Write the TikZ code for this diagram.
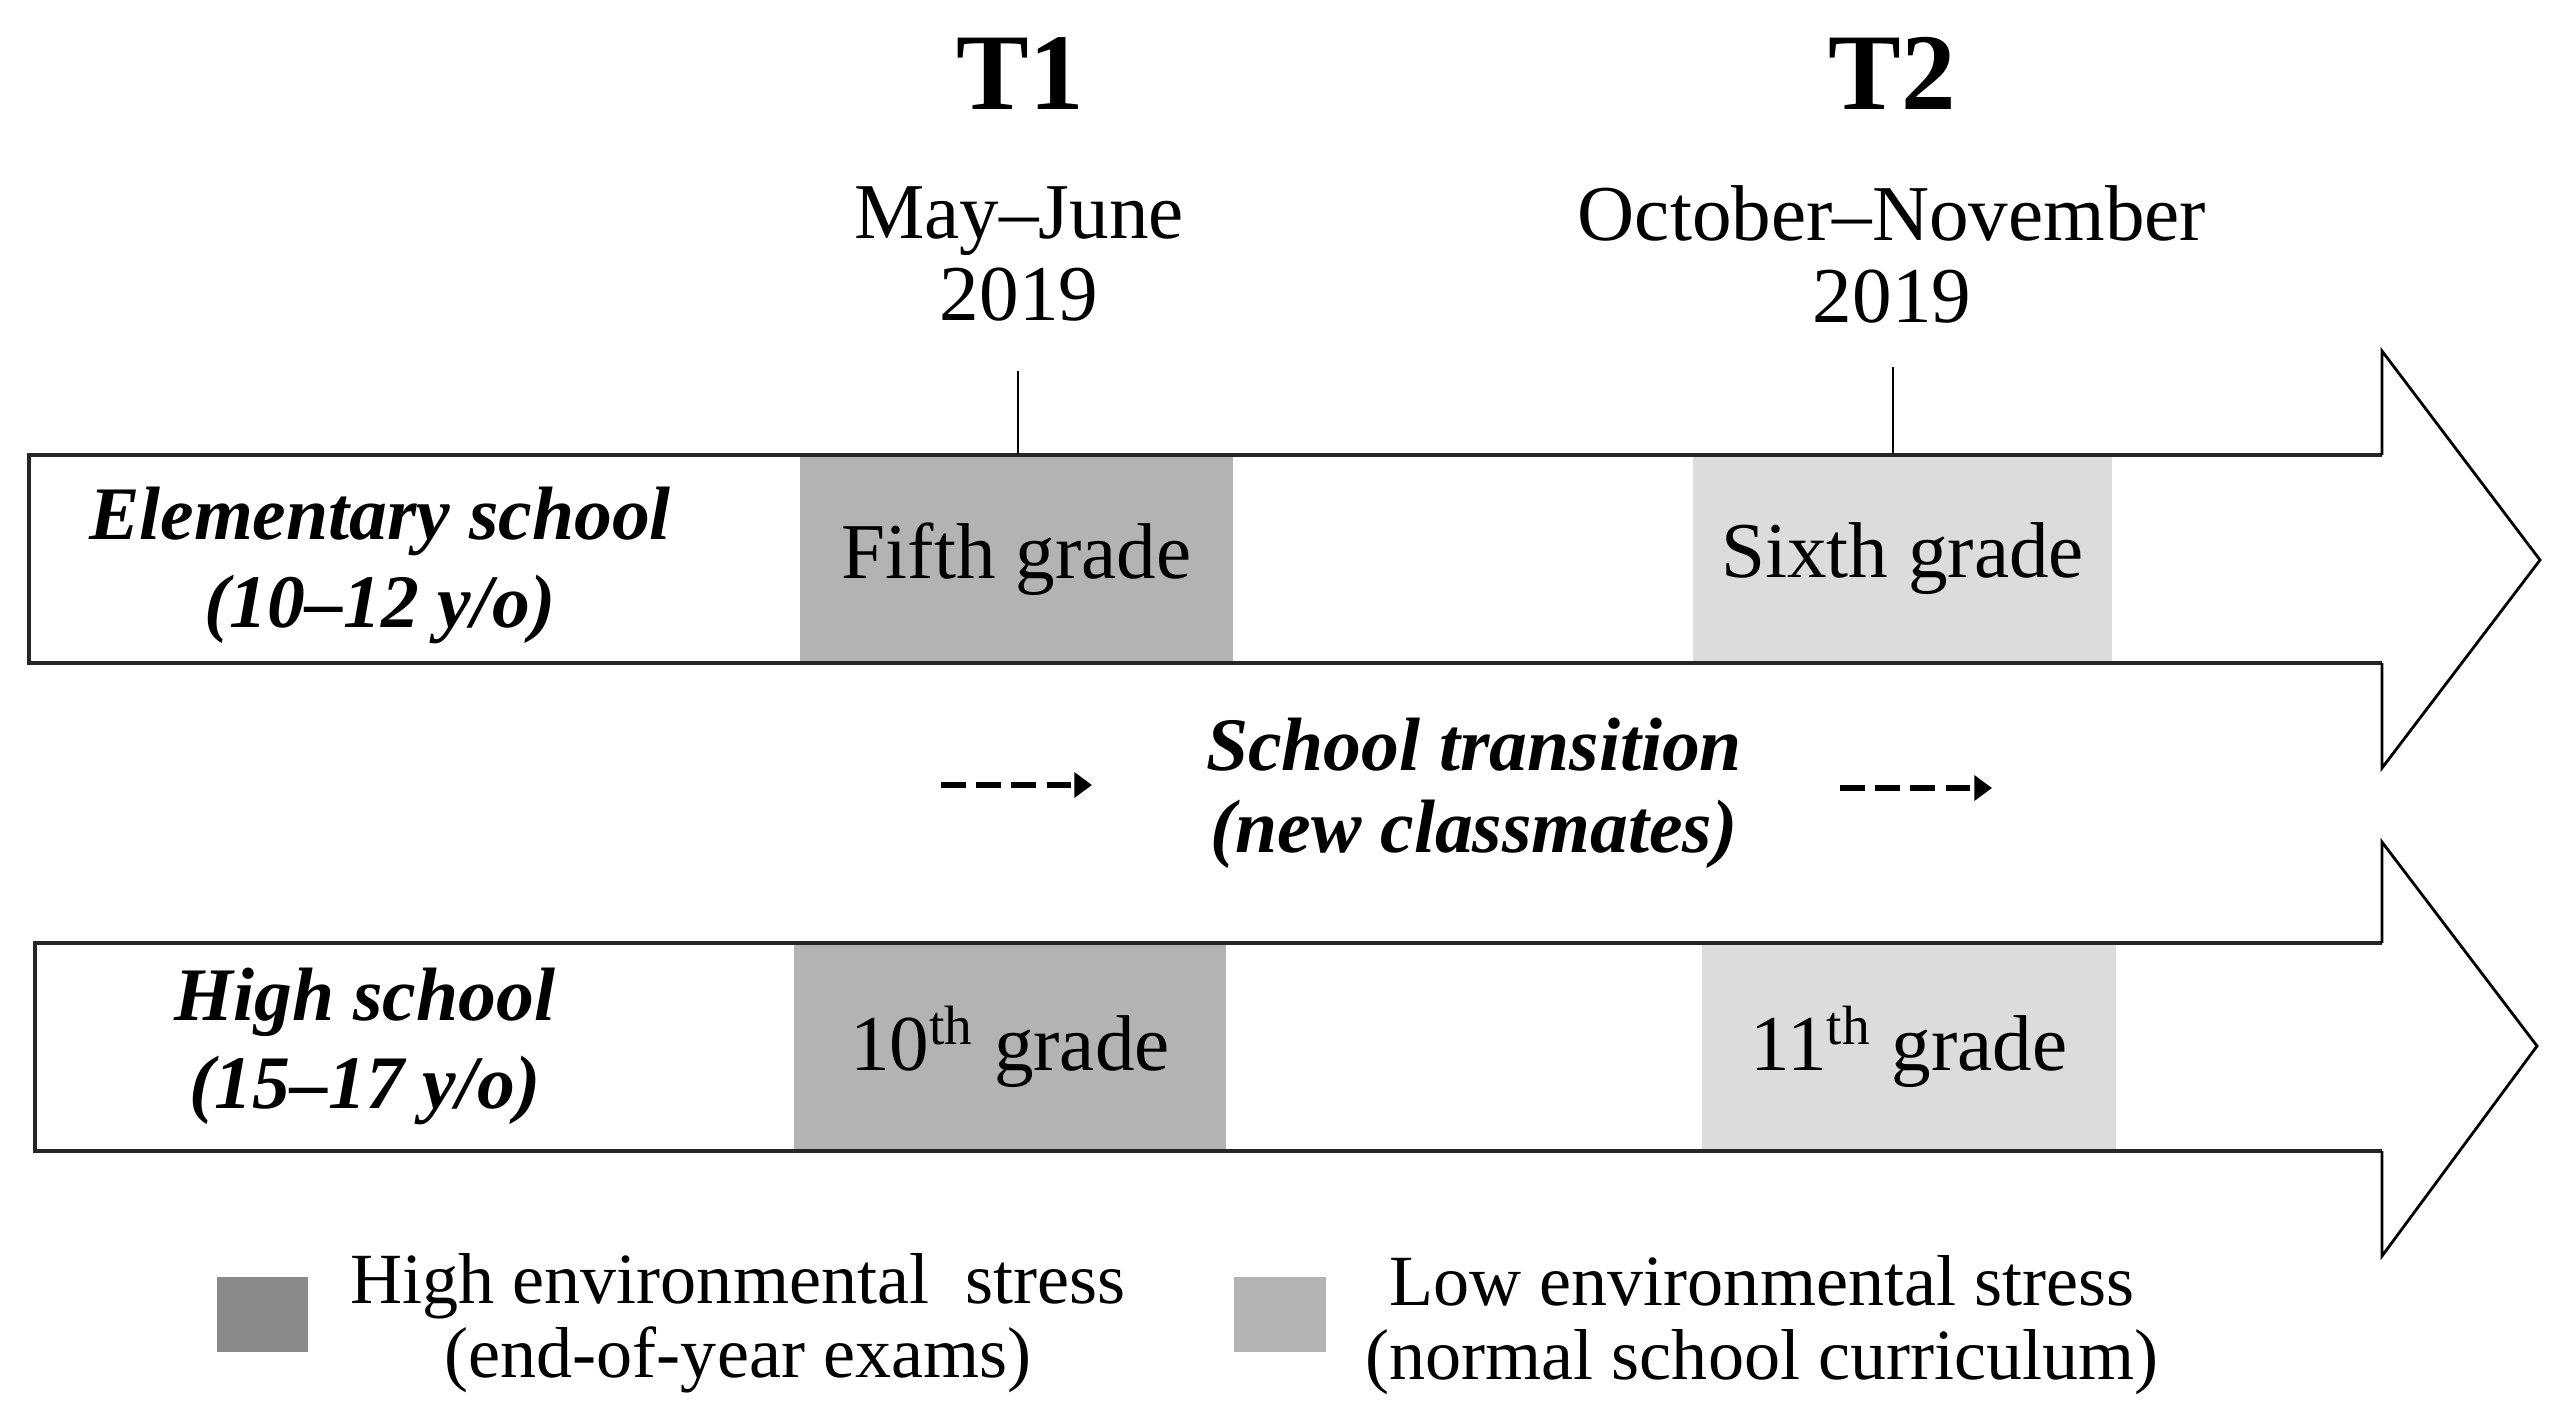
\documentclass[tikz,border=0pt]{standalone}
\usepackage{fontspec}
\setmainfont{Liberation Serif}
\usetikzlibrary{arrows.meta}
\definecolor{boxdark}{HTML}{B3B3B3}
\definecolor{boxlight}{HTML}{DCDCDC}
\definecolor{legdark}{HTML}{8A8A8A}
\definecolor{leglight}{HTML}{B3B3B3}
\definecolor{edge}{HTML}{262626}
\begin{document}
\begin{tikzpicture}[x=0.01cm,y=-0.01cm,
  txt/.style={font=\fontsize{21}{24}\selectfont, align=center, inner sep=0pt},
  bigtxt/.style={font=\fontsize{31}{34}\selectfont\bfseries, inner sep=0pt},
  bitxt/.style={font=\fontsize{21.5}{25}\selectfont\bfseries\itshape, align=center, inner sep=0pt},
  gradebox/.style={draw=none, minimum height=2.08cm, inner sep=0pt, font=\fontsize{22.5}{24}\selectfont},
  shaft/.style={draw=edge, line width=1.3pt, line join=miter},
  head/.style={draw=black, line width=0.8pt, line join=miter},
  tick/.style={draw=black, line width=0.7pt},
  trans/.style={draw=black, line width=1.9pt, dash pattern=on 7pt off 3pt, -{Triangle[length=5pt,width=7pt]}},
  legbox/.style={minimum width=0.91cm, minimum height=0.75cm, inner sep=0pt}
]
\useasboundingbox (0,0) rectangle (2558,1426);

% ---- top arrow (elementary school)
\fill[white] (29,455) -- (2382,455) -- (2382,351) -- (2540,560) -- (2382,768) -- (2382,663) -- (29,663) -- cycle;
\node[gradebox, fill=boxdark, minimum width=4.33cm] (g5) at (1016.5,559) {Fifth grade};
\node[gradebox, fill=boxlight, minimum width=4.19cm] (g6) at (1902.5,559) {Sixth grade};
\draw[shaft] (2382,455) -- (29,455) -- (29,663) -- (2382,663);
\draw[head] (2382,663) -- (2382,768) -- (2540,560) -- (2382,351) -- (2382,455);

% ---- bottom arrow (high school)
\fill[white] (35,943) -- (2382,943) -- (2382,842) -- (2537,1046) -- (2382,1256) -- (2382,1151) -- (35,1151) -- cycle;
\node[gradebox, fill=boxdark, minimum width=4.32cm] (g10) at (1010,1047) {10\textsuperscript{th} grade};
\node[gradebox, fill=boxlight, minimum width=4.14cm] (g11) at (1909,1047) {11\textsuperscript{th} grade};
\draw[shaft] (2382,943) -- (35,943) -- (35,1151) -- (2382,1151);
\draw[head] (2382,1151) -- (2382,1256) -- (2537,1046) -- (2382,842) -- (2382,943);

% ---- time points
\node[bigtxt] (T1) at (1020,73) {T1};
\node[bigtxt] (T2) at (1892,73) {T2};
\node[txt, font=\fontsize{22.5}{23.3}\selectfont] (d1) at (1019,254) {May–June\\2019};
\node[txt, font=\fontsize{22.5}{23.3}\selectfont] (d2) at (1892,254) {October–November\\2019};
\coordinate (t1top) at (1018,371);
\coordinate (t2top) at (1893,367);
\draw[tick] (t1top) -- (t1top |- g5.north);
\draw[tick] (t2top) -- (t2top |- g6.north);

% ---- school labels
\node[bitxt] (es) at (380,565) {Elementary school\\(10–12 y/o)};
\node[bitxt] (hs) at (365,1046) {High school\\(15–17 y/o)};

% ---- transition
\node[bitxt, font=\fontsize{21.5}{23.3}\selectfont\bfseries\itshape] (tr) at (1474,793) {School transition\\(new classmates)};
\coordinate (a1s) at (941,785);
\coordinate (a1e) at (1092,785);
\coordinate (a2s) at (1840,788);
\coordinate (a2e) at (1992,788);
\draw[trans] (a1s) -- (a1e);
\draw[trans] (a2s) -- (a2e);

% ---- legend
\node[legbox, fill=legdark] (lh) at (262.5,1314.5) {};
\node[legbox, fill=leglight] (ll) at (1280,1314.5) {};
\node[txt, font=\fontsize{20.5}{21}\selectfont] (lht) at (738,1323) {High environmental\ \ stress\\(end-of-year exams)};
\node[txt, font=\fontsize{20.5}{21}\selectfont] (llt) at (1762,1325) {Low environmental stress\\(normal school curriculum)};
\end{tikzpicture}
\end{document}
